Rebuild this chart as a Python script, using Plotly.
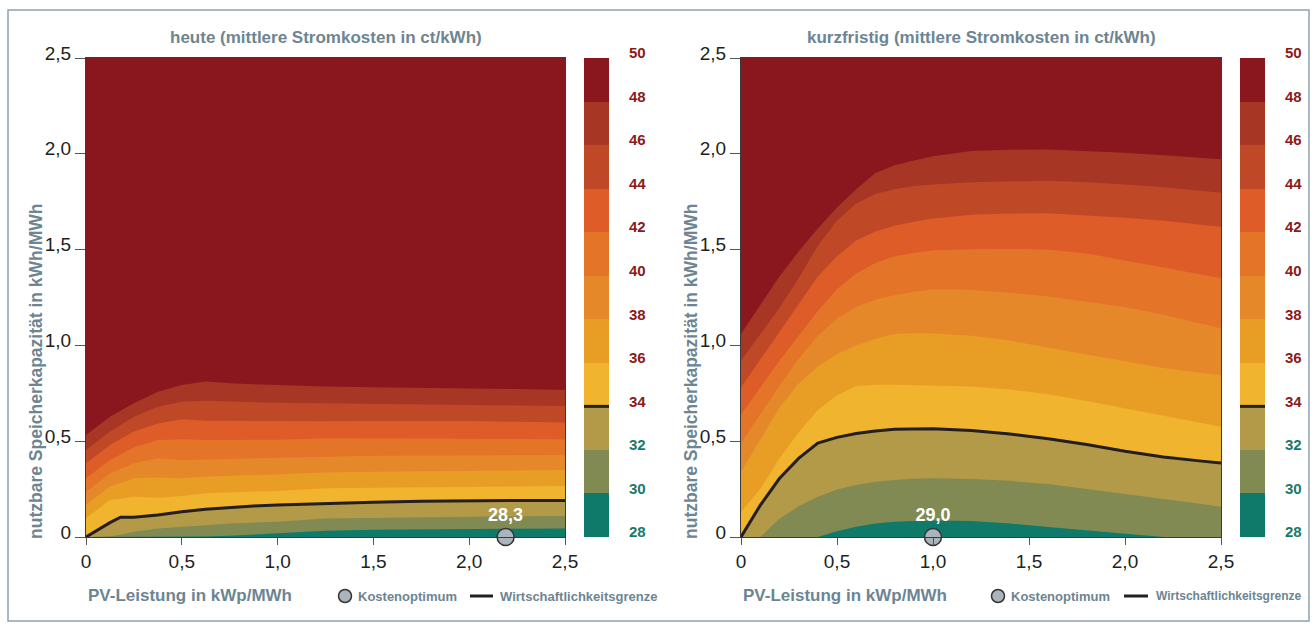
import plotly.graph_objects as go

W, H = 1316, 630

# ---------------- data ----------------
levels = [28, 30, 32, 34, 36, 38, 40, 42, 44, 46, 48, 50]
band_colors = ["#0F7A6A", "#818A52", "#B39A48", "#F0B42E", "#E89E25", "#E5882A",
               "#E37428", "#DE5C28", "#BF4926", "#A83624", "#8A171D"]
tick_vals = [0, 0.5, 1.0, 1.5, 2.0, 2.5]
tick_text = ["0", "0,5", "1,0", "1,5", "2,0", "2,5"]

# panel "heute": contour boundary heights (kWh/MWh) at PV values (kWp/MWh)
heute_x = [0, 0.125, 0.18, 0.25, 0.375, 0.5, 0.625, 0.75, 0.875, 1.0, 1.25, 1.5, 1.75, 2.0, 2.25, 2.5]
heute_30 = [0, 0, 0, 0, 0, 0, 0.002, 0.006, 0.012, 0.019, 0.033, 0.038, 0.04, 0.042, 0.044, 0.045]
heute_32 = [0, 0.003, 0.012, 0.028, 0.045, 0.054, 0.063, 0.071, 0.075, 0.08, 0.097, 0.101, 0.104, 0.106, 0.108, 0.11]
heute_34 = [0, 0.075, 0.103, 0.103, 0.115, 0.132, 0.145, 0.155, 0.162, 0.167, 0.175, 0.182, 0.186, 0.19, 0.191, 0.191]
heute_36 = [0.098, 0.193, 0.2, 0.21, 0.205, 0.214, 0.228, 0.234, 0.237, 0.24, 0.254, 0.257, 0.26, 0.262, 0.264, 0.266]
heute_38 = [0.167, 0.263, 0.282, 0.306, 0.311, 0.306, 0.315, 0.32, 0.323, 0.326, 0.336, 0.341, 0.344, 0.346, 0.348, 0.35]
heute_40 = [0.236, 0.332, 0.355, 0.385, 0.411, 0.402, 0.405, 0.408, 0.41, 0.412, 0.42, 0.424, 0.426, 0.427, 0.428, 0.428]
heute_42 = [0.306, 0.402, 0.431, 0.468, 0.506, 0.51, 0.506, 0.506, 0.506, 0.508, 0.515, 0.515, 0.514, 0.513, 0.511, 0.51]
heute_44 = [0.385, 0.48, 0.511, 0.55, 0.593, 0.614, 0.607, 0.606, 0.605, 0.605, 0.604, 0.605, 0.605, 0.605, 0.601, 0.597]
heute_46 = [0.454, 0.55, 0.584, 0.628, 0.68, 0.706, 0.711, 0.706, 0.703, 0.701, 0.697, 0.694, 0.691, 0.689, 0.686, 0.684]
heute_48 = [0.532, 0.628, 0.659, 0.698, 0.758, 0.793, 0.811, 0.802, 0.797, 0.793, 0.785, 0.781, 0.779, 0.776, 0.772, 0.767]
heute_opt_x, heute_opt_y, heute_opt_label = [2.19], [0.0], ["28,3"]

# panel "kurzfristig"
kurz_x = [0, 0.1, 0.2, 0.3, 0.4, 0.5, 0.6, 0.7, 0.8, 0.9, 1.0, 1.2, 1.4, 1.6, 1.8, 2.0, 2.2, 2.4, 2.5]
kurz_30 = [0, 0, 0, 0, 0, 0.03, 0.054, 0.07, 0.079, 0.084, 0.086, 0.084, 0.071, 0.052, 0.034, 0.015, 0, 0, 0]
kurz_32 = [0, 0, 0.095, 0.16, 0.21, 0.248, 0.272, 0.288, 0.298, 0.304, 0.306, 0.303, 0.293, 0.276, 0.25, 0.225, 0.2, 0.172, 0.158]
kurz_34 = [0, 0.165, 0.305, 0.41, 0.49, 0.52, 0.54, 0.553, 0.562, 0.565, 0.565, 0.556, 0.537, 0.513, 0.483, 0.448, 0.418, 0.396, 0.386]
kurz_36 = [0.13, 0.25, 0.41, 0.545, 0.663, 0.74, 0.788, 0.795, 0.795, 0.793, 0.79, 0.786, 0.77, 0.745, 0.71, 0.672, 0.632, 0.595, 0.576]
kurz_38 = [0.34, 0.51, 0.675, 0.8, 0.89, 0.955, 1.0, 1.035, 1.06, 1.063, 1.062, 1.05, 1.025, 0.988, 0.952, 0.917, 0.882, 0.856, 0.845]
kurz_40 = [0.49, 0.64, 0.79, 0.93, 1.05, 1.14, 1.2, 1.24, 1.262, 1.28, 1.293, 1.29, 1.275, 1.255, 1.228, 1.2, 1.16, 1.115, 1.089]
kurz_42 = [0.64, 0.78, 0.92, 1.05, 1.18, 1.295, 1.375, 1.43, 1.465, 1.482, 1.496, 1.502, 1.503, 1.5, 1.48, 1.443, 1.408, 1.37, 1.35]
kurz_44 = [0.78, 0.925, 1.07, 1.215, 1.359, 1.465, 1.548, 1.594, 1.624, 1.645, 1.662, 1.682, 1.688, 1.69, 1.679, 1.666, 1.651, 1.631, 1.619]
kurz_46 = [0.92, 1.06, 1.195, 1.35, 1.52, 1.65, 1.74, 1.79, 1.815, 1.832, 1.84, 1.852, 1.857, 1.859, 1.851, 1.84, 1.825, 1.807, 1.797]
kurz_48 = [1.06, 1.21, 1.36, 1.49, 1.61, 1.72, 1.815, 1.9, 1.94, 1.965, 1.987, 2.014, 2.021, 2.023, 2.016, 2.006, 1.993, 1.978, 1.971]
kurz_opt_x, kurz_opt_y, kurz_opt_label = [1.0], [0.0], ["29,0"]

titles = ["heute (mittlere Stromkosten in ct/kWh)", "kurzfristig (mittlere Stromkosten in ct/kWh)"]
x_title = "PV-Leistung in kWp/MWh"
y_title = "nutzbare Speicherkapazität in kWh/MWh"
legend_opt = "Kostenoptimum"
legend_line = "Wirtschaftlichkeitsgrenze"

# ---------------- styling ----------------
FONT = "Liberation Sans, Arial, sans-serif"
GREYBLUE = "#6D8592"
DARK = "#231F20"
RED_LBL = "#8B1A1A"
TEAL_LBL = "#1A7A6A"

def px(x):
    return x / W

def py(y):
    return 1 - y / H

fig = go.Figure()

panels = [
    dict(x=heute_x, b={30: heute_30, 32: heute_32, 34: heute_34, 36: heute_36, 38: heute_38,
                       40: heute_40, 42: heute_42, 44: heute_44, 46: heute_46, 48: heute_48},
         ox=heute_opt_x, oy=heute_opt_y, ol=heute_opt_label, xa="x", ya="y", cxa="x3", cya="y3"),
    dict(x=kurz_x, b={30: kurz_30, 32: kurz_32, 34: kurz_34, 36: kurz_36, 38: kurz_38,
                      40: kurz_40, 42: kurz_42, 44: kurz_44, 46: kurz_46, 48: kurz_48},
         ox=kurz_opt_x, oy=kurz_opt_y, ol=kurz_opt_label, xa="x2", ya="y2", cxa="x4", cya="y4"),
]

for p in panels:
    xs = p["x"]
    fig.add_trace(go.Scatter(x=[0, 2.5, 2.5, 0], y=[0, 0, 2.5, 2.5], fill="toself",
                             fillcolor=band_colors[-1], line=dict(width=0), mode="lines",
                             xaxis=p["xa"], yaxis=p["ya"], hoverinfo="skip", showlegend=False))
    for lvl in [48, 46, 44, 42, 40, 38, 36, 34, 32, 30]:
        ys = p["b"][lvl]
        color = band_colors[levels.index(lvl) - 1]
        fig.add_trace(go.Scatter(x=list(xs) + [xs[-1], xs[0]], y=list(ys) + [0, 0],
                                 fill="toself", fillcolor=color, line=dict(width=0),
                                 mode="lines", xaxis=p["xa"], yaxis=p["ya"],
                                 hoverinfo="skip", showlegend=False))
    fig.add_trace(go.Scatter(x=xs, y=p["b"][34], mode="lines",
                             line=dict(color=DARK, width=3), xaxis=p["xa"], yaxis=p["ya"],
                             hoverinfo="skip", showlegend=False))
    fig.add_trace(go.Scatter(x=p["ox"], y=p["oy"], mode="markers+text", text=p["ol"],
                             textposition="top center",
                             textfont=dict(family=FONT, size=18, color="white", weight="bold"),
                             marker=dict(size=17, color="#A9B4BD", line=dict(color="#333333", width=1.5)),
                             cliponaxis=False, xaxis=p["xa"], yaxis=p["ya"],
                             hoverinfo="skip", showlegend=False))
    fig.add_trace(go.Bar(x=[0] * (len(levels) - 1), y=[2] * (len(levels) - 1), base=levels[:-1],
                         width=1, marker=dict(color=band_colors, line=dict(width=0)),
                         xaxis=p["cxa"], yaxis=p["cya"], hoverinfo="skip", showlegend=False))
    fig.add_trace(go.Scatter(x=[-0.5, 0.5], y=[34, 34], mode="lines",
                             line=dict(color=DARK, width=3), xaxis=p["cxa"], yaxis=p["cya"],
                             hoverinfo="skip", showlegend=False))

ydom = [(H - 537) / H, (H - 58) / H]
plot_dx = [(86, 565), (741, 1221)]
cbar_dx = [(584, 609), (1240, 1265)]

axis_common = dict(range=[0, 2.5], tickvals=tick_vals, ticktext=tick_text, ticks="outside",
                   tickcolor="#555555", tickfont=dict(family=FONT, size=19, color=DARK),
                   showgrid=False, zeroline=False, showline=True, mirror=True,
                   linecolor="#3A3A3A", linewidth=1, fixedrange=True, automargin=False)

cb_text = []
for v in levels:
    col = TEAL_LBL if v < 34 else RED_LBL
    cb_text.append(f'<span style="color:{col}">{v}</span>')

layout = dict(
    width=W, height=H, margin=dict(l=0, r=0, t=0, b=0, pad=0, autoexpand=False),
    paper_bgcolor="white", plot_bgcolor="white", barmode="overlay", bargap=0,
    font=dict(family=FONT),
)
for i in range(2):
    sx = "" if i == 0 else "2"
    layout["xaxis" + sx] = dict(axis_common, domain=[px(plot_dx[i][0]), px(plot_dx[i][1])],
                                anchor="y" + sx, ticklen=7)
    layout["yaxis" + sx] = dict(axis_common, domain=ydom, anchor="x" + sx, ticklen=10,
                                ticklabelshift=-5)
    cx = str(3 + i)
    layout["xaxis" + cx] = dict(domain=[px(cbar_dx[i][0]), px(cbar_dx[i][1])], range=[-0.5, 0.5],
                                visible=False, anchor="y" + cx, fixedrange=True)
    layout["yaxis" + cx] = dict(domain=ydom, range=[28, 50], side="right", anchor="x" + cx,
                                tickvals=levels, ticktext=cb_text, ticks="outside", ticklen=16,
                                tickcolor="rgba(0,0,0,0)", showgrid=False, zeroline=False,
                                showline=False, ticklabelshift=-5, automargin=False,
                                tickfont=dict(family=FONT, size=15, weight="bold"),
                                fixedrange=True)
fig.update_layout(**layout)

annotations = []
shapes = []
legend_pos = [dict(c=345, t1=356, l0=470, l1=493, t2=498, s2=13),
              dict(c=998, t1=1009, l0=1124, l1=1148, t2=1154, s2=12)]
for i in range(2):
    x0, x1 = plot_dx[i]
    annotations.append(dict(text=titles[i], x=px((x0 + x1) / 2), y=py(37), xref="paper", yref="paper",
                            showarrow=False, xanchor="center", yanchor="middle",
                            font=dict(family=FONT, size=17, color=GREYBLUE, weight="bold")))
    annotations.append(dict(text=x_title, x=px(x0), y=py(595), xref="paper", yref="paper",
                            showarrow=False, xanchor="left", yanchor="middle",
                            font=dict(family=FONT, size=17, color=GREYBLUE, weight="bold")))
    annotations.append(dict(text=y_title, x=px(x0 - 50), y=py(372), xref="paper", yref="paper",
                            showarrow=False, xanchor="center", yanchor="middle", textangle=-90,
                            font=dict(family=FONT, size=17.5, color=GREYBLUE, weight="bold")))
    lp = legend_pos[i]
    cx, cy = lp["c"], 596
    shapes.append(dict(type="circle", xref="paper", yref="paper",
                       x0=px(cx - 6.5), x1=px(cx + 6.5), y0=py(cy + 6.5), y1=py(cy - 6.5),
                       fillcolor="#A9B4BD", line=dict(color="#333333", width=1.5)))
    annotations.append(dict(text=legend_opt, x=px(lp["t1"]), y=py(cy), xref="paper", yref="paper",
                            showarrow=False, xanchor="left", yanchor="middle",
                            font=dict(family=FONT, size=13, color=GREYBLUE, weight="bold")))
    shapes.append(dict(type="line", xref="paper", yref="paper",
                       x0=px(lp["l0"]), x1=px(lp["l1"]), y0=py(cy), y1=py(cy),
                       line=dict(color=DARK, width=3)))
    annotations.append(dict(text=legend_line, x=px(lp["t2"]), y=py(cy), xref="paper", yref="paper",
                            showarrow=False, xanchor="left", yanchor="middle",
                            font=dict(family=FONT, size=lp["s2"], color=GREYBLUE, weight="bold")))

shapes.append(dict(type="rect", xref="paper", yref="paper", x0=px(8), x1=px(1309), y0=py(621), y1=py(10),
                   line=dict(color="#8FA3AD", width=1.5), fillcolor="rgba(0,0,0,0)", layer="below"))
fig.update_layout(annotations=annotations, shapes=shapes)

fig.write_html("out.html",
               post_script="document.body.style.margin='0';document.body.style.overflow='hidden';"
                           "document.documentElement.style.overflow='hidden';")
